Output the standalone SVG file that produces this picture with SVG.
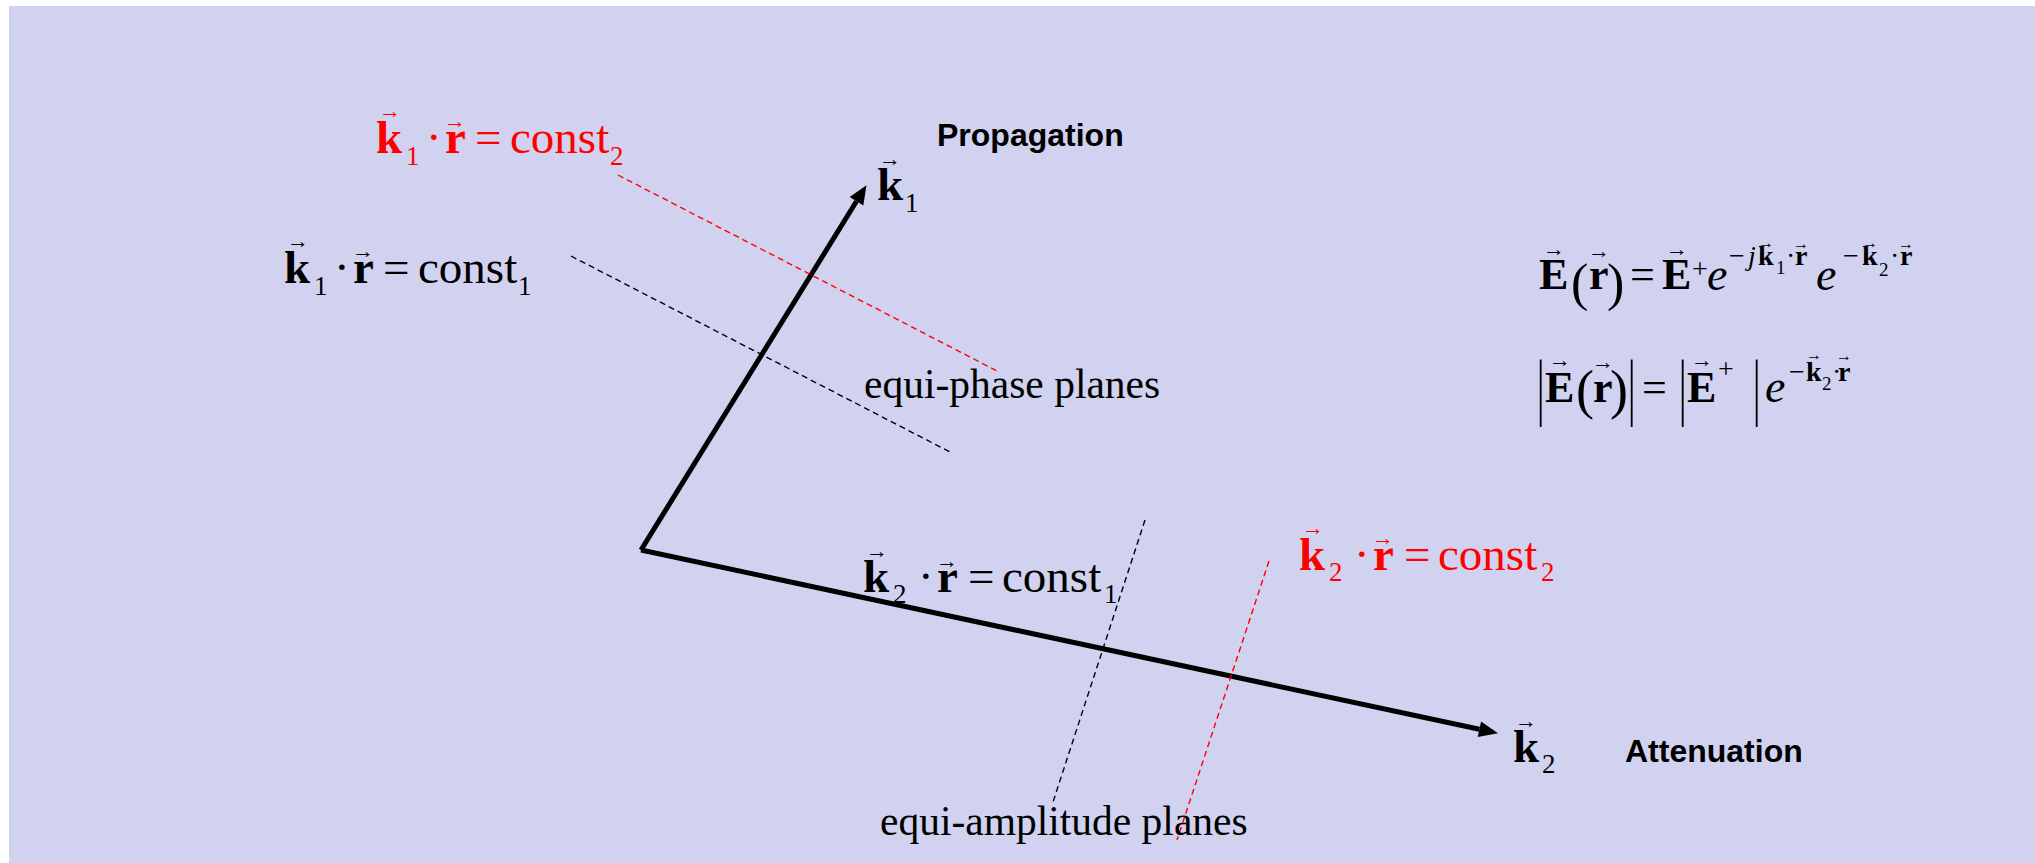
<svg xmlns="http://www.w3.org/2000/svg" width="2035" height="863" viewBox="0 0 2035 863">
<defs>
<style>
.m{font-family:"Liberation Serif","Times New Roman",serif;fill:#000}
.b{font-weight:bold}
.i{font-style:italic}
.red{fill:#FF0000}
.s47{font-size:47px}
.s27{font-size:27px}
.s44{font-size:44px}
.s46{font-size:46px}
.s28{font-size:28px}
.s19{font-size:19px}
.lbl{font-family:"Liberation Sans",Arial,sans-serif;font-weight:bold;font-size:32px;fill:#000}
.cap{font-family:"Liberation Serif","Times New Roman",serif;font-size:41.5px;fill:#000}
.vec{font-family:"Liberation Serif","Times New Roman",serif;font-size:22px;text-anchor:middle}
.vs{font-family:"Liberation Serif","Times New Roman",serif;font-size:16px;text-anchor:middle}
.bar{font-family:"Liberation Serif","Times New Roman",serif;font-size:37px;fill:#000}
.axis{stroke:#000;stroke-width:5;fill:none;marker-end:url(#ah)}
.dk{stroke:#000;stroke-width:1.4;stroke-dasharray:6 4;fill:none}
.dr{stroke:#FF0000;stroke-width:1.4;stroke-dasharray:6 4;fill:none}
</style>
<marker id="ah" markerUnits="userSpaceOnUse" markerWidth="30" markerHeight="30" refX="0" refY="10" orient="auto" viewBox="0 0 30 20" overflow="visible">
<path d="M0,2 L19,10 L0,18 z" fill="#000"/>
</marker>
</defs>
<rect x="9" y="6" width="2026" height="857" fill="#D0D2EF"/>

<g id="connectors">
<line class="axis" x1="641" y1="550" x2="856.5" y2="201.3"/>
<line class="axis" x1="641" y1="550" x2="1479.4" y2="729.2"/>
<line class="dk" x1="571" y1="256" x2="950" y2="452"/>
<line class="dr" x1="618" y1="175" x2="997" y2="371"/>
<line class="dk" x1="1145" y1="520" x2="1053" y2="802"/>
<line class="dr" x1="1269" y1="561" x2="1177" y2="840"/>
</g>

<g id="label-propagation"><text class="lbl" x="937" y="146">Propagation</text></g>
<g id="label-attenuation"><text class="lbl" x="1625" y="762">Attenuation</text></g>
<g id="label-equi-phase"><text class="cap" x="864" y="398">equi-phase planes</text></g>
<g id="label-equi-amplitude"><text class="cap" x="880" y="835">equi-amplitude planes</text></g>

<g id="label-k1">
<text class="m s47"><tspan class="b" x="877" y="200">k</tspan><tspan class="s27" x="905" y="212">1</tspan></text>
<text class="vec" x="890" y="166">→</text>
</g>
<g id="label-k2">
<text class="m s47"><tspan class="b" x="1513" y="762">k</tspan><tspan class="s27" x="1542" y="773">2</tspan></text>
<text class="vec" x="1526" y="728">→</text>
</g>

<g id="eq-k1-const2">
<text class="m s47 red"><tspan class="b" x="376" y="153">k</tspan><tspan class="s27" x="406" y="165">1</tspan><tspan x="426" y="153">·</tspan><tspan class="b" x="445" y="153">r</tspan><tspan x="475" y="153">=</tspan><tspan x="510" y="153">const</tspan><tspan class="s27" x="610" y="165">2</tspan></text>
<text class="vec red" x="390" y="118">→</text>
<text class="vec red" x="455" y="128">→</text>
</g>

<g id="eq-k1-const1">
<text class="m s47"><tspan class="b" x="284" y="283">k</tspan><tspan class="s27" x="314" y="295">1</tspan><tspan x="334" y="283">·</tspan><tspan class="b" x="353" y="283">r</tspan><tspan x="383" y="283">=</tspan><tspan x="418" y="283">const</tspan><tspan class="s27" x="518" y="295">1</tspan></text>
<text class="vec" x="298" y="248">→</text>
<text class="vec" x="363" y="258">→</text>
</g>

<g id="eq-k2-const1">
<text class="m s47"><tspan class="b" x="863" y="592">k</tspan><tspan class="s27" x="893" y="603">2</tspan><tspan x="918" y="592">·</tspan><tspan class="b" x="937" y="592">r</tspan><tspan x="968" y="592">=</tspan><tspan x="1002" y="592">const</tspan><tspan class="s27" x="1104" y="603">1</tspan></text>
<text class="vec" x="877" y="558">→</text>
<text class="vec" x="947" y="568">→</text>
</g>

<g id="eq-k2-const2">
<text class="m s47 red"><tspan class="b" x="1299" y="570">k</tspan><tspan class="s27" x="1329" y="581">2</tspan><tspan x="1354" y="570">·</tspan><tspan class="b" x="1373" y="570">r</tspan><tspan x="1404" y="570">=</tspan><tspan x="1438" y="570">const</tspan><tspan class="s27" x="1541" y="581">2</tspan></text>
<text class="vec red" x="1313" y="535">→</text>
<text class="vec red" x="1383" y="545">→</text>
</g>

<g id="eq-field">
<text class="m s44"><tspan class="b" x="1539" y="289">E</tspan><tspan style="font-size:52px" x="1571" y="300">(</tspan><tspan class="b" x="1589" y="289">r</tspan><tspan style="font-size:52px" x="1607" y="300">)</tspan><tspan x="1630" y="289">=</tspan><tspan class="b" x="1662" y="289">E</tspan><tspan class="s28" x="1692" y="278">+</tspan><tspan class="i s46" x="1707" y="290">e</tspan><tspan class="s28" x="1729" y="265">−</tspan><tspan class="i s28" x="1748" y="265">j</tspan><tspan class="b s28" x="1758" y="265">k</tspan><tspan class="s19" x="1776" y="274">1</tspan><tspan class="s28" x="1786" y="265">·</tspan><tspan class="b s28" x="1795" y="265">r</tspan><tspan class="i s46" x="1816" y="290">e</tspan><tspan class="s28" x="1843" y="265">−</tspan><tspan class="b s28" x="1862" y="265">k</tspan><tspan class="s19" x="1879" y="276">2</tspan><tspan class="s28" x="1890" y="265">·</tspan><tspan class="b s28" x="1900" y="265">r</tspan></text>
<text class="vec" x="1554" y="256">→</text>
<text class="vec" x="1599" y="258">→</text>
<text class="vec" x="1677" y="256">→</text>
<text class="vs" x="1766" y="248">→</text>
<text class="vs" x="1801" y="249">→</text>
<text class="vs" x="1870" y="248">→</text>
<text class="vs" x="1906" y="249">→</text>
</g>

<g id="eq-magnitude">
<text class="bar" transform="translate(1537,411) scale(1,2)">|</text>
<text class="bar" transform="translate(1628,411) scale(1,2)">|</text>
<text class="bar" transform="translate(1679,411) scale(1,2)">|</text>
<text class="bar" transform="translate(1753,411) scale(1,2)">|</text>
<text class="m s44"><tspan class="b" x="1545" y="402">E</tspan><tspan style="font-size:54px" x="1576" y="408">(</tspan><tspan class="b" x="1593" y="402">r</tspan><tspan style="font-size:54px" x="1610" y="408">)</tspan><tspan x="1642" y="402">=</tspan><tspan class="b" x="1687" y="402">E</tspan><tspan class="s28" x="1718" y="378">+</tspan><tspan class="i s46" x="1765" y="402">e</tspan><tspan class="s28" x="1789" y="381">−</tspan><tspan class="b s28" x="1806" y="381">k</tspan><tspan class="s19" x="1822" y="390">2</tspan><tspan class="s28" x="1832" y="381">·</tspan><tspan class="b s28" x="1838" y="381">r</tspan></text>
<text class="vec" x="1560" y="367">→</text>
<text class="vec" x="1603" y="369">→</text>
<text class="vec" x="1702" y="367">→</text>
<text class="vs" x="1814" y="360">→</text>
<text class="vs" x="1844" y="361">→</text>
</g>
</svg>
